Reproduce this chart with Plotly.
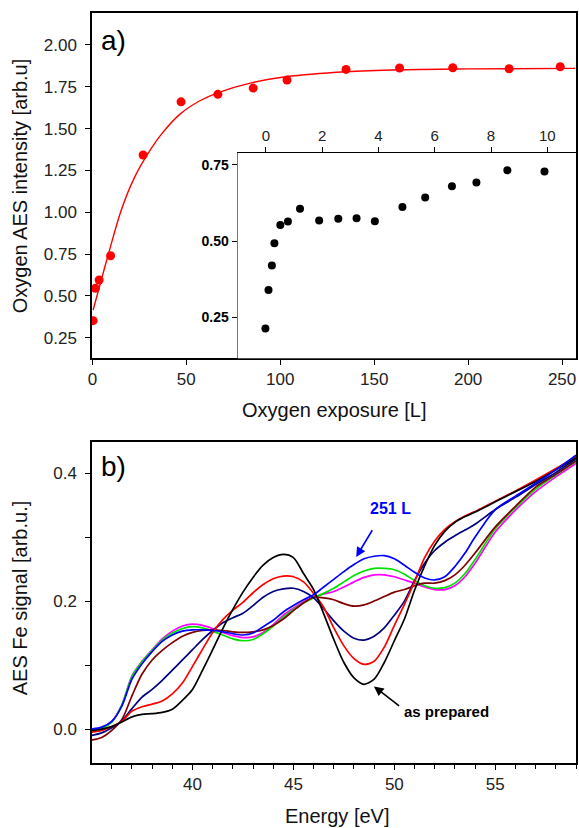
import plotly.graph_objects as go

# ---------------- Panel a) data ----------------
exposure_L = [0.4, 1.6, 3.6, 9.7, 27, 47.2, 66.8, 85.6, 103.6, 135, 163.5, 191.8, 221.8, 249]
o_intensity = [0.352, 0.545, 0.595, 0.74, 1.342, 1.66, 1.705, 1.742, 1.79, 1.854, 1.862, 1.864, 1.858, 1.87]

fit_x = [0.4, 8.3, 15.4, 22.5, 30.4, 37, 46.5, 57, 67, 85, 103, 135, 165, 200, 257]
fit_y = [0.415, 0.74, 1.014, 1.21, 1.365, 1.47, 1.585, 1.665, 1.715, 1.775, 1.81, 1.84, 1.852, 1.857, 1.86]

# inset
inset_x = [-0.02, 0.09, 0.21, 0.30, 0.51, 0.78, 1.21, 1.89, 2.57, 3.22, 3.87, 4.85, 5.66, 6.61, 7.48, 8.58, 9.90]
inset_y = [0.213, 0.339, 0.42, 0.493, 0.553, 0.564, 0.606, 0.567, 0.573, 0.575, 0.565, 0.612, 0.643, 0.68, 0.692, 0.732, 0.728]
inset_xticks = [0, 2, 4, 6, 8, 10]
inset_yticks = [0.25, 0.50, 0.75]

# ---------------- Panel b) data ----------------
energy = [35, 35.5, 36, 36.5, 37, 37.5, 38, 38.5, 39, 39.5, 40, 40.5, 41, 41.5, 42, 42.5,
          43, 43.5, 44, 44.5, 45, 45.5, 46, 46.5, 47, 47.5, 48, 48.5, 49, 49.5, 50, 50.5,
          51, 51.5, 52, 52.5, 53, 53.5, 54, 55, 56, 57, 58, 59]

as_prepared = [-0.002, 0.000, 0.004, 0.011, 0.019, 0.023, 0.024, 0.026, 0.031, 0.045, 0.062, 0.092,
               0.124, 0.157, 0.187, 0.214, 0.237, 0.256, 0.268, 0.273, 0.268, 0.243, 0.218, 0.180,
               0.140, 0.104, 0.080, 0.070, 0.078, 0.104, 0.138, 0.172, 0.217, 0.255, 0.287, 0.309,
               0.323, 0.332, 0.339, 0.355, 0.371, 0.387, 0.405, 0.424]
red_series = [-0.005, -0.002, 0.004, 0.012, 0.028, 0.035, 0.039, 0.044, 0.055, 0.072, 0.098, 0.125,
              0.151, 0.171, 0.186, 0.198, 0.213, 0.226, 0.235, 0.239, 0.238, 0.230, 0.212, 0.190,
              0.158, 0.130, 0.110, 0.101, 0.106, 0.128, 0.162, 0.195, 0.230, 0.268, 0.294, 0.312,
              0.324, 0.333, 0.340, 0.356, 0.372, 0.389, 0.407, 0.426]
navy_series = [-0.010, -0.006, 0.002, 0.013, 0.032, 0.050, 0.062, 0.076, 0.092, 0.108, 0.124, 0.140,
               0.154, 0.166, 0.174, 0.181, 0.193, 0.206, 0.215, 0.219, 0.220, 0.215, 0.205, 0.188,
               0.169, 0.153, 0.142, 0.139, 0.145, 0.158, 0.178, 0.200, 0.232, 0.259, 0.279, 0.292,
               0.302, 0.311, 0.320, 0.343, 0.362, 0.382, 0.401, 0.422]
brown_series = [-0.017, -0.013, -0.002, 0.015, 0.052, 0.086, 0.108, 0.123, 0.135, 0.145, 0.151, 0.154,
                0.155, 0.154, 0.152, 0.151, 0.152, 0.155, 0.162, 0.172, 0.185, 0.197, 0.206, 0.205,
                0.202, 0.196, 0.192, 0.194, 0.200, 0.207, 0.214, 0.218, 0.224, 0.228, 0.228, 0.232,
                0.241, 0.256, 0.275, 0.316, 0.348, 0.378, 0.398, 0.419]
magenta_series = [-0.001, 0.002, 0.012, 0.038, 0.083, 0.106, 0.124, 0.141, 0.153, 0.161, 0.164, 0.162,
                  0.157, 0.151, 0.146, 0.143, 0.144, 0.151, 0.163, 0.178, 0.189, 0.199, 0.206, 0.211,
                  0.215, 0.222, 0.230, 0.237, 0.241, 0.241, 0.238, 0.233, 0.228, 0.222, 0.218, 0.218,
                  0.224, 0.238, 0.259, 0.308, 0.342, 0.371, 0.394, 0.415]
green_series = [-0.002, 0.001, 0.011, 0.038, 0.082, 0.105, 0.123, 0.139, 0.150, 0.157, 0.160, 0.158,
                0.153, 0.147, 0.141, 0.138, 0.140, 0.149, 0.161, 0.175, 0.187, 0.197, 0.205, 0.212,
                0.220, 0.230, 0.240, 0.247, 0.251, 0.251, 0.249, 0.242, 0.232, 0.224, 0.220, 0.221,
                0.228, 0.243, 0.265, 0.313, 0.346, 0.375, 0.397, 0.418]
blue_251L = [0.000, 0.003, 0.012, 0.036, 0.078, 0.102, 0.121, 0.137, 0.147, 0.153, 0.155, 0.155,
             0.154, 0.152, 0.149, 0.147, 0.150, 0.160, 0.170, 0.183, 0.193, 0.202, 0.210, 0.222,
             0.234, 0.246, 0.257, 0.266, 0.270, 0.271, 0.266, 0.256, 0.245, 0.236, 0.233, 0.238,
             0.254, 0.275, 0.300, 0.343, 0.364, 0.384, 0.405, 0.428]

b_series = [
    ("magenta", magenta_series, "#ff00ff"),
    ("green", green_series, "#00e000"),
    ("brown", brown_series, "#800000"),
    ("navy", navy_series, "#000080"),
    ("red", red_series, "#ff0000"),
    ("as prepared", as_prepared, "#000000"),
    ("251 L", blue_251L, "#0000ff"),
]

FONT = "Liberation Sans, Arial, sans-serif"

fig = go.Figure()

# panel a
fig.add_trace(go.Scatter(x=fit_x, y=fit_y, mode="lines", line=dict(color="#ff0000", width=1.4, shape="spline", smoothing=1.0),
                         xaxis="x", yaxis="y", showlegend=False, hoverinfo="skip"))
fig.add_trace(go.Scatter(x=exposure_L, y=o_intensity, mode="markers", marker=dict(color="#ff0000", size=9),
                         xaxis="x", yaxis="y", showlegend=False))
# inset
fig.add_trace(go.Scatter(x=inset_x, y=inset_y, mode="markers", marker=dict(color="#000000", size=8),
                         xaxis="x3", yaxis="y3", showlegend=False))
# panel b
for name, vals, col in b_series:
    fig.add_trace(go.Scatter(x=energy, y=vals, mode="lines", name=name,
                             line=dict(color=col, width=1.7, shape="spline", smoothing=0.8),
                             xaxis="x2", yaxis="y2", showlegend=False))

W, H = 579, 828
L, R, T, B = 92, 1, 13, 65
pw, ph = W - L - R, H - T - B

def px(xp):
    return (xp - L) / pw

def py(yp):
    return (H - B - yp) / ph

axis_common = dict(showline=True, linecolor="#000000", linewidth=1.5, ticks="outside", ticklen=5,
                   tickwidth=1.2, tickcolor="#000000", showgrid=False, zeroline=False,
                   tickfont=dict(family=FONT, size=17, color="#222222"))

fig.update_layout(
    width=W, height=H,
    margin=dict(l=L, r=R, t=T, b=B, pad=0),
    paper_bgcolor="white", plot_bgcolor="white",
    font=dict(family=FONT, color="#000000"),
    xaxis=dict(domain=[0, 1], anchor="y", range=[-0.2, 257.4], tickvals=[0, 50, 100, 150, 200, 250],
               mirror=True, **axis_common),
    yaxis=dict(domain=[py(358.3), 1], anchor="x", range=[0.127, 2.191],
               tickvals=[0.25, 0.5, 0.75, 1.0, 1.25, 1.5, 1.75, 2.0], tickformat=".2f",
               mirror=True, ticklabelstandoff=5, **axis_common),
    xaxis2=dict(domain=[0, 1], anchor="y2", range=[35.02, 59.0], tickvals=[40, 45, 50, 55],
                minor=dict(dtick=1, ticks="outside", ticklen=4, tickcolor="#000000", tickwidth=1.2),
                mirror=True, **axis_common),
    yaxis2=dict(domain=[0, py(441.7)], anchor="x2", range=[-0.053, 0.449],
                tickvals=[0.0, 0.1, 0.2, 0.3, 0.4], ticktext=["0.0", "", "0.2", "", "0.4"],
                mirror=True, ticklabelstandoff=5, **axis_common),
    xaxis3=dict(domain=[px(238.3), 1], anchor="y3", side="top", range=[-1.005, 11.02],
                tickvals=inset_xticks, showline=True, linecolor="#000000", linewidth=1.2,
                ticks="outside", ticklen=5, tickwidth=1.2, tickcolor="#000000", showgrid=False, zeroline=False,
                tickfont=dict(family=FONT, size=15, color="#222222")),
    yaxis3=dict(domain=[py(358.3), py(152.7)], anchor="x3", range=[0.115, 0.79],
                tickvals=inset_yticks, tickformat=".2f", showline=True, linecolor="#777777", linewidth=1.2,
                ticks="outside", ticklen=5, tickwidth=1.2, tickcolor="#000000", showgrid=False, zeroline=False,
                tickfont=dict(family=FONT, size=14, color="#000000", weight="bold")),
)

def label(text, xp, yp, size, angle=0, color="#111111"):
    return dict(text=text, x=px(xp), y=py(yp), xref="paper", yref="paper", xanchor="center",
                yanchor="middle", textangle=angle, showarrow=False,
                font=dict(family=FONT, size=size, color=color))

ann = []
# axis titles
ann.append(label("Oxygen AES intensity [arb.u]", 20, 186, 20, -90))
ann.append(label("Oxygen exposure [L]", 335, 410, 20))
ann.append(label("AES Fe signal [arb.u.]", 20, 598, 20, -90))
ann.append(label("Energy [eV]", 339, 816, 20))
# panel labels
ann.append(label("a)", 114, 40, 28, 0, "#000000"))
ann.append(label("b)", 114, 466, 28, 0, "#000000"))
# 251 L
ann.append(dict(text="<b>251 L</b>", x=49.81, y=0.344, xref="x2", yref="y2", xanchor="center", yanchor="middle",
                showarrow=False, font=dict(family=FONT, size=16, color="#0000ff")))
ann.append(dict(text="", x=48.11, y=0.269, ax=48.95, ay=0.313, xref="x2", yref="y2", axref="x2", ayref="y2",
                showarrow=True, arrowhead=2, arrowsize=1.2, arrowwidth=1.6, arrowcolor="#0000ff"))
# as prepared
ann.append(dict(text="<b>as prepared</b>", x=50.39, y=0.0275, xref="x2", yref="y2", xanchor="left", yanchor="middle",
                showarrow=False, font=dict(family=FONT, size=15, color="#000000")))
ann.append(dict(text="", x=48.99, y=0.0666, ax=50.31, ay=0.0344, xref="x2", yref="y2", axref="x2", ayref="y2",
                showarrow=True, arrowhead=2, arrowsize=1.2, arrowwidth=1.6, arrowcolor="#000000"))
fig.update_layout(annotations=ann)

fig.write_html("out.html")
